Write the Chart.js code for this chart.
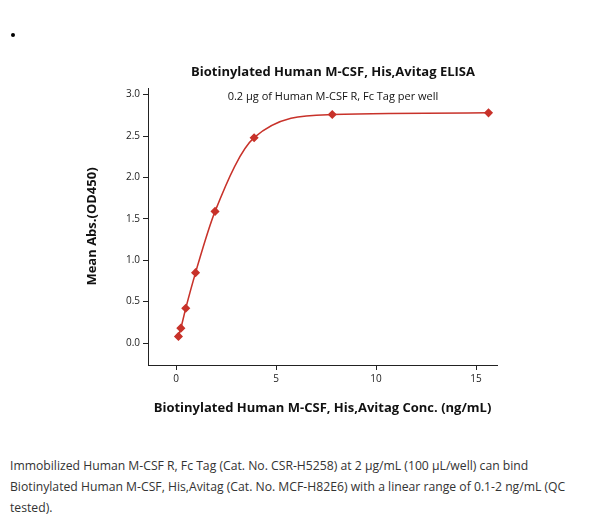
<!DOCTYPE html>
<html><head><meta charset="utf-8">
<script src="https://cdn.jsdelivr.net/npm/chart.js@4"></script>
<style>
body{margin:0;background:#fff;font-family:"Open Sans",sans-serif;}
#wrap{position:relative;width:600px;height:440px;}
#cap{position:absolute;left:10px;top:455px;width:585px;font-size:12.2px;line-height:21px;color:#333;}
#dot{position:absolute;left:11px;top:33px;width:4px;height:4px;background:#000;border-radius:2px;}
</style></head>
<body>
<div id="dot"></div>
<div id="wrap"><canvas id="c"></canvas></div>
<div id="cap">Immobilized Human M-CSF R, Fc Tag (Cat. No. CSR-H5258) at 2 μg/mL (100 μL/well) can bind Biotinylated Human M-CSF, His,Avitag (Cat. No. MCF-H82E6) with a linear range of 0.1-2 ng/mL (QC tested).</div>
<script>
const concs = [0.122, 0.244, 0.488, 0.977, 1.953, 3.906, 7.813, 15.625];
const absVals = [0.08, 0.18, 0.42, 0.85, 1.59, 2.48, 2.76, 2.78];
const xTicks = [0, 5, 10, 15];
const yTicks = [0.0, 0.5, 1.0, 1.5, 2.0, 2.5, 3.0];
const red = '#c8322a';

Chart.defaults.font.family = '"Open Sans", sans-serif';

const titles = {
  id: 'titles',
  afterDraw(ch) {
    const c = ch.ctx;
    c.save();
    c.fillStyle = '#111';
    c.textAlign = 'center';
    c.textBaseline = 'middle';
    c.font = 'bold 13px "Open Sans"';
    c.fillText('Biotinylated Human M-CSF, His,Avitag ELISA', 333, 72);
    c.font = '11px "Open Sans"';
    c.fillText('0.2 μg of Human M-CSF R, Fc Tag per well', 333, 97);
    c.restore();
  }
};

const axisGrid = {display: true, drawOnChartArea: false, drawTicks: true, tickLength: 5, color: '#222'};

new Chart(document.getElementById('c'), {
  type: 'scatter',
  data: {
    datasets: [{
      data: concs.map((x, i) => ({x, y: absVals[i]})),
      showLine: true,
      cubicInterpolationMode: 'monotone',
      borderColor: red,
      borderWidth: 1.5,
      backgroundColor: red,
      pointStyle: 'rectRot',
      pointRadius: 3.5
    }]
  },
  options: {
    responsive: true,
    maintainAspectRatio: false,
    animation: false,
    layout: {padding: {top: 88, left: 80, right: 103, bottom: 20}},
    plugins: {legend: {display: false}, tooltip: {enabled: false}},
    scales: {
      x: {
        type: 'linear', min: -1.4, max: 16.05,
        afterBuildTicks: s => { s.ticks = xTicks.map(v => ({value: v})); },
        afterFit: s => { s.height = 55; },
        grid: axisGrid,
        border: {color: '#222'},
        ticks: {color: '#222', font: {size: 10}},
        title: {display: true, text: 'Biotinylated Human M-CSF, His,Avitag Conc. (ng/mL)', color: '#111', font: {size: 13, weight: 'bold'}, padding: {top: 6}}
      },
      y: {
        min: -0.265, max: 3.08,
        afterBuildTicks: s => { s.ticks = yTicks.map(v => ({value: v})); },
        afterFit: s => { s.width = 68; },
        grid: axisGrid,
        border: {color: '#222'},
        ticks: {color: '#222', font: {size: 10}, callback: v => v.toFixed(1)},
        title: {display: true, text: 'Mean Abs.(OD450)', color: '#111', font: {size: 13, weight: 'bold'}}
      }
    }
  },
  plugins: [titles]
});
</script>
</body></html>
